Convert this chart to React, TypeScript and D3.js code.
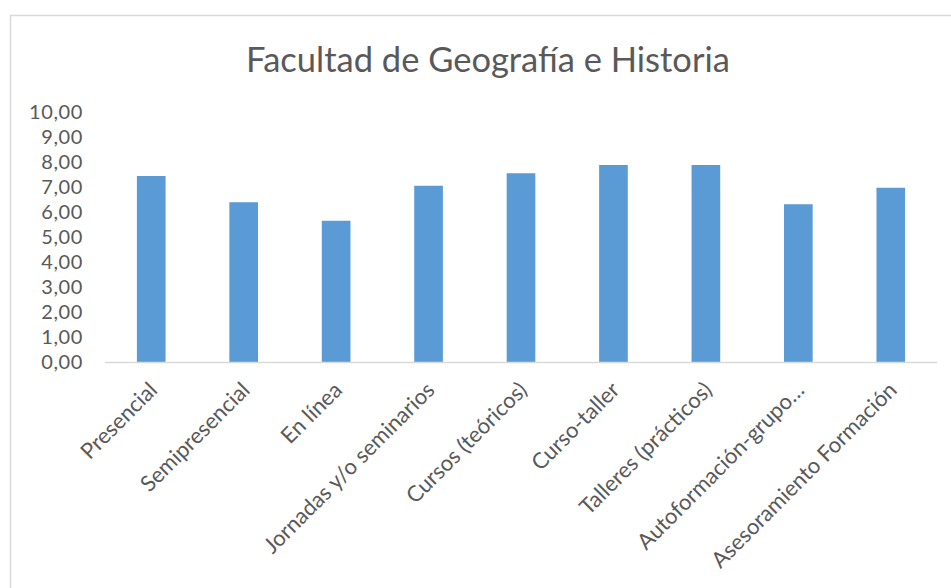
import * as d3 from "d3";
import { useEffect, useRef } from "react";

// data
const categories = [
  "Presencial",
  "Semipresencial",
  "En línea",
  "Jornadas y/o seminarios",
  "Cursos (teóricos)",
  "Curso-taller",
  "Talleres (prácticos)",
  "Autoformación-grupo…",
  "Asesoramiento Formación",
];
const values = [7.44, 6.39, 5.65, 7.05, 7.55, 7.88, 7.88, 6.31, 6.97];
const yTicks = [0, 1, 2, 3, 4, 5, 6, 7, 8, 9, 10];
const title = "Facultad de Geografía e Historia";

export default function App() {
  const svgRef = useRef<SVGSVGElement>(null);

  useEffect(() => {
    const width = 951;
    const height = 588;
    const font = "Lato, 'Open Sans', sans-serif";
    const textColor = "#595959";

    const svg = d3.select(svgRef.current);
    svg.selectAll("*").remove();

    //chart frame
    svg
      .append("rect")
      .attr("x", 10.5)
      .attr("y", 15.5)
      .attr("width", width)
      .attr("height", height)
      .attr("fill", "white")
      .attr("stroke", "#d9d9d9")
      .attr("stroke-width", 1.5);

    //title
    svg
      .append("text")
      .attr("x", 488)
      .attr("y", 72)
      .attr("text-anchor", "middle")
      .attr("font-family", font)
      .attr("font-size", 34.5)
      .attr("fill", textColor)
      .text(title);

    //scales
    const plotLeft = 105;
    const plotRight = 937;
    const plotTop = 112;
    const plotBottom = 362;

    const xScale = d3
      .scaleBand()
      .domain(categories)
      .range([plotLeft, plotRight])
      .paddingInner(0.69)
      .paddingOuter(0.345);
    const yScale = d3.scaleLinear().domain([0, 10]).range([plotBottom, plotTop]);

    const fmt = (v: number) => v.toFixed(2).replace(".", ",");

    //y axis labels
    const yAxis = d3
      .axisLeft(yScale)
      .tickValues(yTicks)
      .tickFormat((d) => fmt(d as number))
      .tickSize(0)
      .tickPadding(22);
    const yg = svg.append("g").attr("transform", `translate(${plotLeft},0)`).call(yAxis);
    yg.select(".domain").remove();
    yg.selectAll("text")
      .attr("font-family", font)
      .attr("font-size", 20)
      .attr("letter-spacing", 0.6)
      .attr("fill", textColor);

    //bars
    svg
      .append("g")
      .selectAll("rect")
      .data(values)
      .enter()
      .append("rect")
      .attr("x", (d, i) => xScale(categories[i]) as number)
      .attr("y", (d) => yScale(d))
      .attr("width", xScale.bandwidth())
      .attr("height", (d) => plotBottom - yScale(d))
      .attr("fill", "#5b9bd5");

    //x axis line
    svg
      .append("line")
      .attr("x1", plotLeft)
      .attr("x2", plotRight)
      .attr("y1", plotBottom + 0.5)
      .attr("y2", plotBottom + 0.5)
      .attr("stroke", "#d9d9d9")
      .attr("stroke-width", 1.5);

    //category labels, rotated
    svg
      .append("g")
      .selectAll("text")
      .data(categories)
      .enter()
      .append("text")
      .attr(
        "transform",
        (d) =>
          `translate(${(xScale(d) as number) + xScale.bandwidth() / 2 + 2},${plotBottom + 24}) rotate(-45)`
      )
      .attr("text-anchor", "end")
      .attr("dy", "0.35em")
      .attr("font-family", font)
      .attr("font-size", 22)
      .attr("fill", textColor)
      .text((d) => d);
  }, []);

  return (
    <svg
      ref={svgRef}
      width={951}
      height={588}
      style={{ position: "absolute", left: 0, top: 0 }}
    ></svg>
  );
}
